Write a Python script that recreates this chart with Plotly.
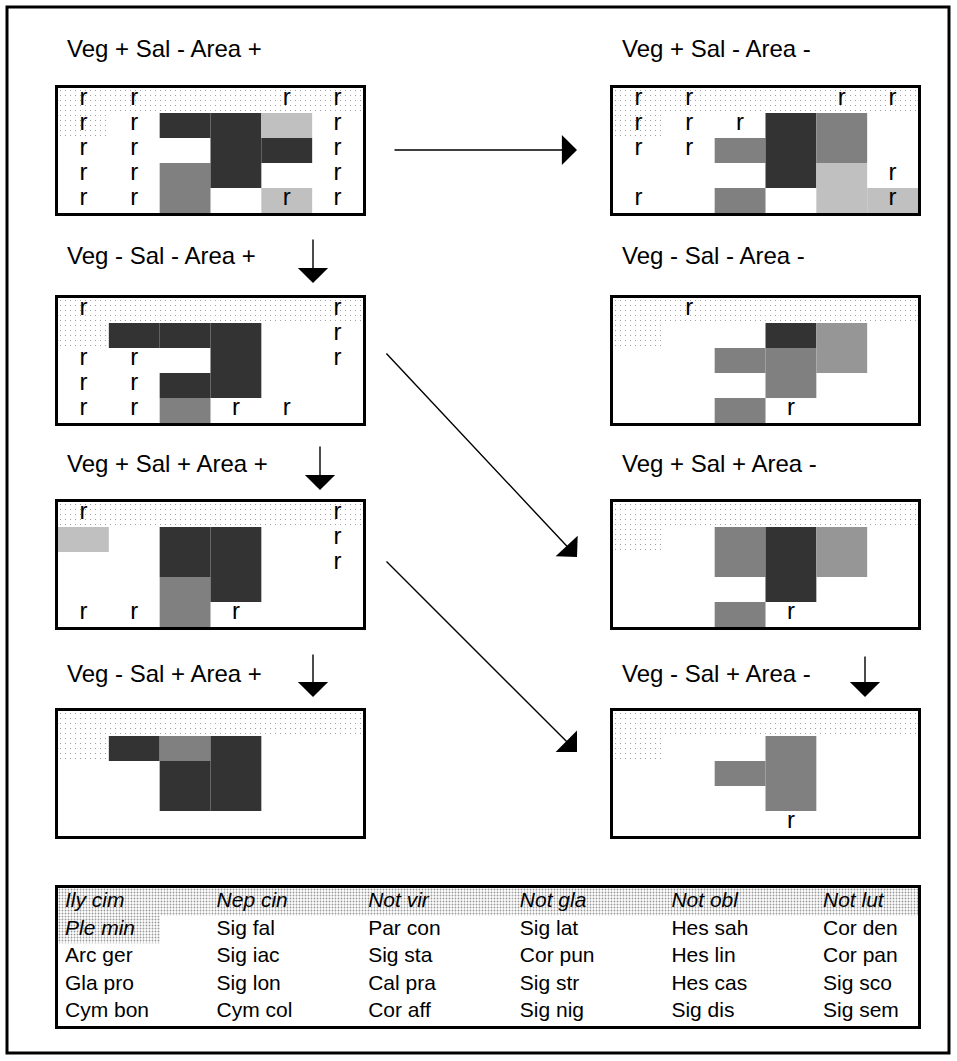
import plotly.graph_objects as go

# ---------------- data ----------------
PANEL_TITLES = [
    "Veg + Sal - Area +", "Veg + Sal - Area -",
    "Veg - Sal - Area +", "Veg - Sal - Area -",
    "Veg + Sal + Area +", "Veg + Sal + Area -",
    "Veg - Sal + Area +", "Veg - Sal + Area -",
]

# shade codes: 0 none, 1 light, 2 mid-light, 3 mid, 4 dark
SHADES = [
    [[0, 0, 0, 0, 0, 0], [0, 0, 4, 4, 1, 0], [0, 0, 0, 4, 4, 0], [0, 0, 3, 4, 0, 0], [0, 0, 3, 0, 1, 0]],
    [[0, 0, 0, 0, 0, 0], [0, 0, 0, 4, 3, 0], [0, 0, 3, 4, 3, 0], [0, 0, 0, 4, 1, 0], [0, 0, 3, 0, 1, 1]],
    [[0, 0, 0, 0, 0, 0], [0, 4, 4, 4, 0, 0], [0, 0, 0, 4, 0, 0], [0, 0, 4, 4, 0, 0], [0, 0, 3, 0, 0, 0]],
    [[0, 0, 0, 0, 0, 0], [0, 0, 0, 4, 2, 0], [0, 0, 3, 3, 2, 0], [0, 0, 0, 3, 0, 0], [0, 0, 3, 0, 0, 0]],
    [[0, 0, 0, 0, 0, 0], [1, 0, 4, 4, 0, 0], [0, 0, 4, 4, 0, 0], [0, 0, 3, 4, 0, 0], [0, 0, 3, 0, 0, 0]],
    [[0, 0, 0, 0, 0, 0], [0, 0, 3, 4, 2, 0], [0, 0, 3, 4, 2, 0], [0, 0, 0, 4, 0, 0], [0, 0, 3, 0, 0, 0]],
    [[0, 0, 0, 0, 0, 0], [0, 4, 3, 4, 0, 0], [0, 0, 4, 4, 0, 0], [0, 0, 4, 4, 0, 0], [0, 0, 0, 0, 0, 0]],
    [[0, 0, 0, 0, 0, 0], [0, 0, 0, 3, 0, 0], [0, 0, 3, 3, 0, 0], [0, 0, 0, 3, 0, 0], [0, 0, 0, 0, 0, 0]],
]

# "r" marks
R_MARKS = [
    [[1, 1, 0, 0, 1, 1], [1, 1, 0, 0, 0, 1], [1, 1, 0, 0, 0, 1], [1, 1, 0, 0, 0, 1], [1, 1, 0, 0, 1, 1]],
    [[1, 1, 0, 0, 1, 1], [1, 1, 1, 0, 0, 0], [1, 1, 0, 0, 0, 0], [0, 0, 0, 0, 0, 1], [1, 0, 0, 0, 0, 1]],
    [[1, 0, 0, 0, 0, 1], [0, 0, 0, 0, 0, 1], [1, 1, 0, 0, 0, 1], [1, 1, 0, 0, 0, 0], [1, 1, 0, 1, 1, 0]],
    [[0, 1, 0, 0, 0, 0], [0, 0, 0, 0, 0, 0], [0, 0, 0, 0, 0, 0], [0, 0, 0, 0, 0, 0], [0, 0, 0, 1, 0, 0]],
    [[1, 0, 0, 0, 0, 1], [0, 0, 0, 0, 0, 1], [0, 0, 0, 0, 0, 1], [0, 0, 0, 0, 0, 0], [1, 1, 0, 1, 0, 0]],
    [[0, 0, 0, 0, 0, 0], [0, 0, 0, 0, 0, 0], [0, 0, 0, 0, 0, 0], [0, 0, 0, 0, 0, 0], [0, 0, 0, 1, 0, 0]],
    [[0, 0, 0, 0, 0, 0], [0, 0, 0, 0, 0, 0], [0, 0, 0, 0, 0, 0], [0, 0, 0, 0, 0, 0], [0, 0, 0, 0, 0, 0]],
    [[0, 0, 0, 0, 0, 0], [0, 0, 0, 0, 0, 0], [0, 0, 0, 0, 0, 0], [0, 0, 0, 0, 0, 0], [0, 0, 0, 1, 0, 0]],
]

# stippled group (species of first table row + Ple min)
STIPPLE_CELLS = [(0, 0), (0, 1), (0, 2), (0, 3), (0, 4), (0, 5), (1, 0)]

SPECIES = [
    ["Ily cim", "Nep cin", "Not vir", "Not gla", "Not obl", "Not lut"],
    ["Ple min", "Sig fal", "Par con", "Sig lat", "Hes sah", "Cor den"],
    ["Arc ger", "Sig iac", "Sig sta", "Cor pun", "Hes lin", "Cor pan"],
    ["Gla pro", "Sig lon", "Cal pra", "Sig str", "Hes cas", "Sig sco"],
    ["Cym bon", "Cym col", "Cor aff", "Sig nig", "Sig dis", "Sig sem"],
]

# ---------------- styling / layout ----------------
W, H = 957, 1061
FONT = "Liberation Sans, Arial, sans-serif"
R_FONT = "Liberation Sans Narrow, Liberation Sans, Arial, sans-serif"
SHADE_COLORS = {1: "#C0C0C0", 2: "#969696", 3: "#808080", 4: "#333333"}

PANEL_X = [(58, 363), (613, 918)]
PANEL_Y = [(88, 213), (298, 423), (502, 627), (711, 836)]
TITLE_X = [65, 620]
TITLE_Y = [48, 255, 464, 673]

TABLE_X = (58, 918)
TABLE_Y = (888, 1026)
TABLE_COL_W = 151.6
TABLE_PAD = 7
PLEMIN_W = 102


def px(x):
    return x / W


def py(y):
    return 1 - y / H


fig = go.Figure()
layout = dict(
    width=W, height=H, margin=dict(l=0, r=0, t=0, b=0),
    paper_bgcolor="white", plot_bgcolor="white", showlegend=False,
    barmode="overlay", font=dict(family=FONT, color="black"),
)

axis_common = dict(showgrid=False, zeroline=False, showticklabels=False, ticks="",
                   showline=True, linewidth=3, linecolor="black", mirror=True, fixedrange=True)

stipple_marker = dict(color="white", line=dict(width=0),
                      pattern=dict(shape=".", fgcolor="#909090", bgcolor="white",
                                   size=5, solidity=0.04, fillmode="replace"))

annotations = []
for i in range(8):
    row, col = divmod(i, 2)
    k = i + 1
    xa = "x" if k == 1 else f"x{k}"
    ya = "y" if k == 1 else f"y{k}"
    xkey = "xaxis" if k == 1 else f"xaxis{k}"
    ykey = "yaxis" if k == 1 else f"yaxis{k}"
    x0, x1 = PANEL_X[col]
    y0, y1 = PANEL_Y[row]
    layout[xkey] = dict(domain=[px(x0), px(x1)], range=[0, 6], anchor=ya, **axis_common)
    layout[ykey] = dict(domain=[py(y1), py(y0)], range=[5, 0], anchor=xa, **axis_common)

    # stippled background cells
    fig.add_trace(go.Bar(
        x=[c + 0.5 for r, c in STIPPLE_CELLS], y=[1] * len(STIPPLE_CELLS),
        base=[r for r, c in STIPPLE_CELLS], width=[1] * len(STIPPLE_CELLS),
        marker=stipple_marker, xaxis=xa, yaxis=ya, hoverinfo="skip"))

    # shaded cells
    sx, sb, sc = [], [], []
    for r, rowvals in enumerate(SHADES[i]):
        for c, v in enumerate(rowvals):
            if v:
                sx.append(c + 0.5)
                sb.append(r)
                sc.append(SHADE_COLORS[v])
    fig.add_trace(go.Bar(
        x=sx, y=[1] * len(sx), base=sb, width=[1] * len(sx),
        marker=dict(color=sc, line=dict(width=0)), xaxis=xa, yaxis=ya, hoverinfo="skip"))

    # r marks
    rx, ry = [], []
    for r, rowvals in enumerate(R_MARKS[i]):
        for c, v in enumerate(rowvals):
            if v:
                rx.append(c + 0.5)
                ry.append(r + 0.42)
    fig.add_trace(go.Scatter(
        x=rx, y=ry, mode="text", text=["r"] * len(rx),
        textfont=dict(family=R_FONT, size=24, color="black"),
        xaxis=xa, yaxis=ya, hoverinfo="skip"))

    annotations.append(dict(
        text=PANEL_TITLES[i], xref="paper", yref="paper",
        x=px(TITLE_X[col]), y=py(TITLE_Y[row]), xanchor="left", yanchor="middle",
        showarrow=False, font=dict(family=FONT, size=24, color="black")))

# ---------------- species table ----------------
ncols = (TABLE_X[1] - TABLE_X[0]) / TABLE_COL_W
layout["xaxis9"] = dict(domain=[px(TABLE_X[0]), px(TABLE_X[1])], range=[0, ncols], anchor="y9", **axis_common)
layout["yaxis9"] = dict(domain=[py(TABLE_Y[1]), py(TABLE_Y[0])], range=[5, 0], anchor="x9", **axis_common)

tstip_x, tstip_b, tstip_w = [], [], []
for r, c in STIPPLE_CELLS:
    w = 1 if r == 0 else PLEMIN_W / TABLE_COL_W
    tstip_x.append(c + w / 2)
    tstip_b.append(r)
    tstip_w.append(w)
fig.add_trace(go.Bar(
    x=tstip_x, y=[1] * len(tstip_x), base=tstip_b, width=tstip_w,
    marker=dict(color="white", line=dict(width=0),
                pattern=dict(shape=".", fgcolor="#999999", bgcolor="white",
                             size=3, solidity=0.3, fillmode="replace")),
    xaxis="x9", yaxis="y9", hoverinfo="skip"))

stip_set = set(STIPPLE_CELLS)
for italic in (True, False):
    tx, ty, tt = [], [], []
    for r, rowvals in enumerate(SPECIES):
        for c, name in enumerate(rowvals):
            if ((r, c) in stip_set) == italic:
                tx.append(c + TABLE_PAD / TABLE_COL_W)
                ty.append(r + 0.5)
                tt.append(name)
    fig.add_trace(go.Scatter(
        x=tx, y=ty, mode="text", text=tt, textposition="middle right",
        textfont=dict(family=FONT, size=21, color="black",
                      style="italic" if italic else "normal"),
        xaxis="x9", yaxis="y9", hoverinfo="skip"))

# ---------------- arrows ----------------
ARROWS = [
    ((393, 150), (577, 150)),
    ((313, 238), (313, 283)),
    ((385, 352), (577, 557)),
    ((320, 445), (320, 490)),
    ((385, 560), (577, 752)),
    ((313, 653), (313, 697)),
    ((865, 655), (865, 697)),
]
for (tx0, ty0), (hx, hy) in ARROWS:
    annotations.append(dict(
        text="", xref="paper", yref="paper", x=px(hx), y=py(hy),
        ax=tx0 - hx, ay=ty0 - hy, axref="pixel", ayref="pixel",
        showarrow=True, arrowhead=1, arrowsize=3.6, arrowwidth=1.4, arrowcolor="black",
        standoff=0, startstandoff=0))

layout["annotations"] = annotations
layout["shapes"] = [dict(type="rect", xref="paper", yref="paper",
                         x0=px(7), x1=px(949), y0=py(1053), y1=py(7),
                         line=dict(color="black", width=3), fillcolor="rgba(0,0,0,0)")]

fig.update_layout(**layout)
fig.write_html("out.html", config={"displayModeBar": False},
               post_script="document.body.style.margin='0px';document.body.style.overflow='hidden';")
